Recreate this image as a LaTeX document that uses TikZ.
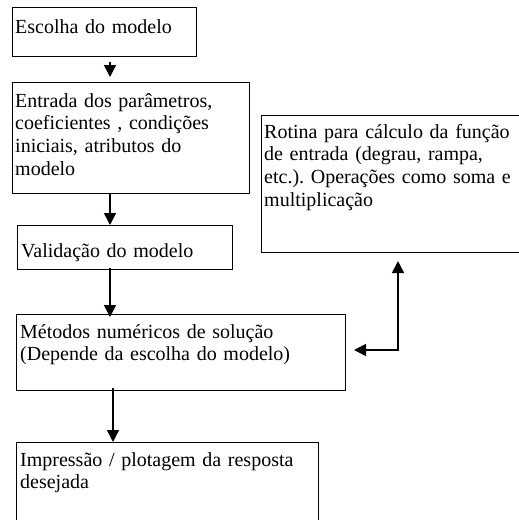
\documentclass[tikz,border=0pt]{standalone}
\usepackage{fontspec}
\setmainfont{Liberation Serif}
\usetikzlibrary{arrows.meta}
\frenchspacing
\begin{document}
\begin{tikzpicture}[x=1pt,y=-1pt,
  box/.style={draw=black,line width=1pt,rectangle,inner sep=0pt,anchor=north west},
  txt/.style={anchor=base west,inner sep=0pt,text width=330pt,align=left,
    font=\fontsize{20}{22.8}\selectfont},
  arr/.style={line width=1.5pt,-{Triangle[length=12pt,width=12pt]}},
  arr2/.style={line width=1.5pt,{Triangle[length=12pt,width=12pt]}-{Triangle[length=12pt,width=12pt]}}]
\useasboundingbox (0,0) rectangle (519,520);
\begin{scope}
\clip (0,0) rectangle (519,520);
\node[box,minimum width=184pt,minimum height=49pt] (b1) at (12,7) {};
\node[box,minimum width=237pt,minimum height=111pt] (b2) at (12,82) {};
\node[box,minimum width=215pt,minimum height=44pt] (b3) at (17,225) {};
\node[box,minimum width=329pt,minimum height=76pt] (b4) at (16,314) {};
\node[box,minimum width=302pt,minimum height=100pt] (b5) at (16,442) {};
\node[box,minimum width=280pt,minimum height=137pt] (b6) at (261,115) {};
\end{scope}
\node[txt] (t1) at (15,33) {Escolha do modelo};
\node[txt] (t2) at (15,107) {Entrada dos parâmetros,\\coeficientes , condições\\iniciais, atributos do\\modelo};
\node[txt] (t3) at (21,257) {Validação do modelo};
\node[txt] (t4) at (20,338) {Métodos numéricos de solução\\(Depende da escolha do modelo)};
\node[txt] (t5) at (20,466) {Impressão / plotagem da resposta\\desejada};
\node[txt] (t6) at (264,138) {Rotina para cálculo da função\\de entrada (degrau, rampa,\\etc.). Operações como soma e\\multiplicação};
\coordinate (a1) at (110,0);
\coordinate (a4) at (113,0);
\coordinate (c) at (398,350);
\draw[arr,shorten <=5pt,shorten >=5pt] (b1.south -| a1) -- (b2.north -| a1);
\draw[arr] (b2.south -| a1) -- (b3.north -| a1);
\draw[arr,shorten <=-2pt,shorten >=-3pt] (b3.south -| a1) -- (b4.north -| a1);
\draw[arr,shorten <=-3pt] (b4.south -| a4) -- (b5.north -| a4);
\draw[arr2,shorten <=8pt,shorten >=8pt] (b4.east |- c) -- (c) -- (b6.south -| c);
\end{tikzpicture}
\end{document}
